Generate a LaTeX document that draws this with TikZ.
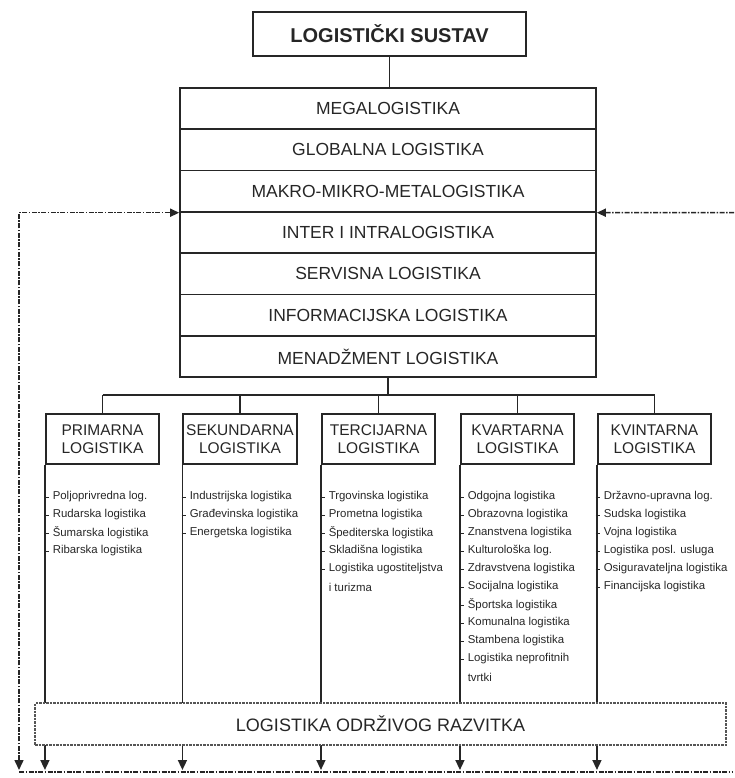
\documentclass[tikz,border=0pt]{standalone}
\usepackage{fontspec}
\setmainfont{Liberation Sans}
\usetikzlibrary{arrows.meta}
\definecolor{ink}{HTML}{262626}
\definecolor{dashink}{HTML}{555555}
\begin{document}
\begin{tikzpicture}[x=1pt,y=-1pt,
  line width=1.6pt, color=ink,
  box/.style={draw=ink,line width=1.6pt,rectangle,inner sep=0pt,align=center,text=ink},
  row/.style={box,minimum width=416pt,minimum height=41.3pt,font=\fontsize{17.5}{20}\selectfont},
  hdr/.style={box,minimum width=113.5pt,minimum height=50pt,font=\fontsize{15.5}{18}\selectfont},
  item/.style={anchor=west,inner sep=0pt,text=ink,font=\fontsize{11.4}{13}\selectfont},
  dsh/.style={draw=ink,line width=1.5pt,dash pattern=on 5pt off 1.5pt on 1.5pt off 1.5pt},
  tip/.style={-{Triangle[length=10pt,width=9pt]}},
  stip/.style={-{Triangle[length=9pt,width=8pt]}}
]
\useasboundingbox (0,0) rectangle (734,778);

% title
\node[box,minimum width=273pt,minimum height=44pt,font=\bfseries\fontsize{20}{24}\selectfont] (sys) at (389.5,34) {LOGISTIČKI SUSTAV};

% stacked rows
\foreach \t [count=\i] in {MEGALOGISTIKA,GLOBALNA LOGISTIKA,MAKRO-MIKRO-METALOGISTIKA,INTER I INTRALOGISTIKA,SERVISNA LOGISTIKA,INFORMACIJSKA LOGISTIKA,MENADŽMENT LOGISTIKA}
  \node[row] (r\i) at (388,{88+41.3*(\i-0.5)}) {\t};

\draw (sys.south) -- (sys.south |- r1.north);

% headers
\node[hdr] (h1) at (102.5,439) {PRIMARNA\\LOGISTIKA};
\node[hdr] (h2) at (240,439) {SEKUNDARNA\\LOGISTIKA};
\node[hdr] (h3) at (378.5,439) {TERCIJARNA\\LOGISTIKA};
\node[hdr] (h4) at (517.5,439) {KVARTARNA\\LOGISTIKA};
\node[hdr] (h5) at (654.5,439) {KVINTARNA\\LOGISTIKA};

\coordinate (hub) at (388,395);
\draw (r7.south) -- (hub);
\draw (h1.north |- hub) -- (h5.north |- hub);
\foreach \i in {1,...,5} \draw (h\i.north) -- (h\i.north |- hub);

% bottom reference line
\coordinate (bot) at (0,770);
\coordinate (bl) at (19,772);
\coordinate (br) at (733,772);
\coordinate (lc) at (19,770);
\coordinate (rc) at (734,212.5);

% vertical lines from headers down
\foreach \i in {1,...,5} \draw[tip] (h\i.south west) -- (h\i.south west |- bot);

% item lists
\newcommand\itemlist[3]{%
  \foreach \t/\m [count=\k] in {#3} {%
    \node[item] (#2-\k) at (#1+6,{497+18*(\k-1)}) {\t};
    \ifnum\m=1 \draw[line width=0.9pt] (#1-1.5,{497+18*(\k-1)}) -- (#1+2.5,{497+18*(\k-1)});\fi
  }}
\itemlist{46}{pa}{Poljoprivredna log./1,Rudarska logistika/1,Šumarska logistika/1,Ribarska logistika/1}
\itemlist{183}{pb}{Industrijska logistika/1,Građevinska logistika/1,Energetska logistika/1}
\itemlist{322}{pc}{Trgovinska logistika/1,Prometna logistika/1,Špediterska logistika/1,Skladišna logistika/1,Logistika ugostiteljstva/1,i turizma/0}
\itemlist{461}{pd}{Odgojna logistika/1,Obrazovna logistika/1,Znanstvena logistika/1,Kulturološka log./1,Zdravstvena logistika/1,Socijalna logistika/1,Športska logistika/1,Komunalna logistika/1,Stambena logistika/1,Logistika neprofitnih/1,tvrtki/0}
\itemlist{597}{pe}{Državno-upravna log./1,Sudska logistika/1,Vojna logistika/1,Logistika posl. usluga/1,Osiguravateljna logistika/1,Financijska logistika/1}

% sustainable development box
\node[draw=dashink,line width=1.2pt,dash pattern=on 2.5pt off 1pt,fill=white,text=ink,
  minimum width=691pt,minimum height=42pt,inner sep=0pt,font=\fontsize{18}{22}\selectfont] (lor) at (380.5,724) {LOGISTIKA ODRŽIVOG RAZVITKA};

% dashed feedback lines
\draw[dsh] (bl) -- (br);
\draw[dsh,{Triangle[length=10pt,width=9pt]}-{Triangle[length=9pt,width=8pt]}] (lc) |- (r3.south west);
\draw[dsh,stip] (rc) -- (r3.south east);
\end{tikzpicture}
\end{document}
